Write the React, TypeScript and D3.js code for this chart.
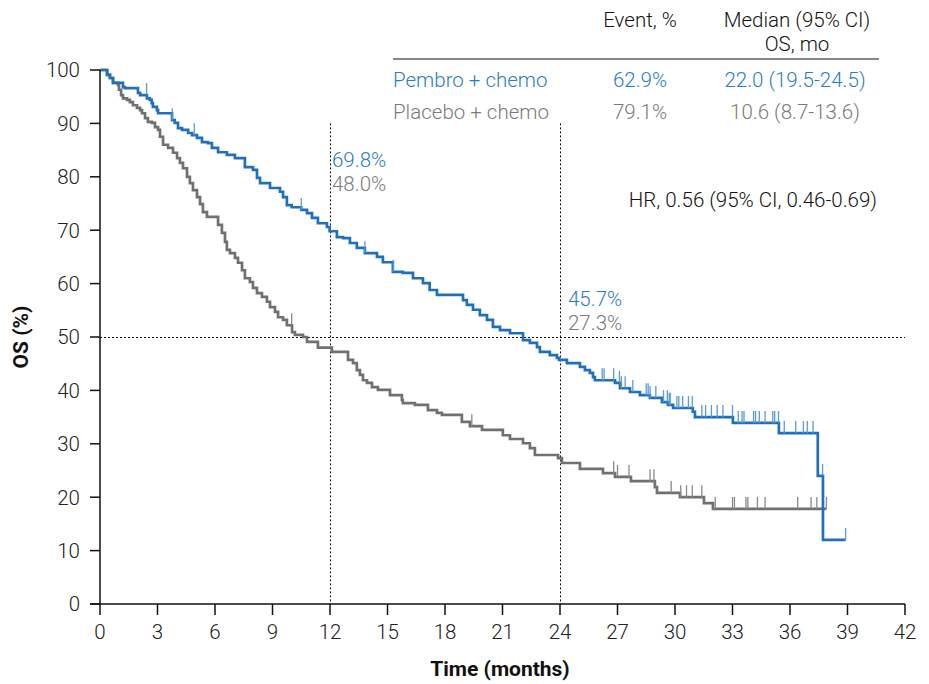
import React from 'react';
import * as d3 from 'd3';

// KM steps: [time (months), OS % after the drop]
const pembroSteps: [number, number][] = [
  [0, 100], [0.37, 99.1], [0.52, 98.5], [0.68, 97.6], [1.2, 96.8], [1.3, 96.6], [1.98, 95.7], [2.09, 95.3],
  [2.45, 94.7], [2.6, 94.4], [2.7, 93.8], [2.76, 93.1], [2.97, 92.5], [3.03, 91.9], [3.76, 90.6], [3.9, 90.1],
  [4.07, 89.1], [4.28, 88.8], [4.6, 88.2], [4.8, 87.8], [5.06, 87.3], [5.32, 86.5], [5.63, 86.3], [5.84, 85.4],
  [6.16, 84.6], [6.62, 84.1], [7.04, 83.5], [7.56, 81.8], [7.98, 81.3], [8.19, 79.8], [8.35, 78.8], [8.87, 77.9],
  [9.39, 77.2], [9.55, 76.2], [9.75, 74.7], [10.0, 74.3], [10.5, 73.8], [10.8, 73.2], [11.06, 72.3], [11.37, 71.3],
  [11.84, 70.6], [11.98, 69.8], [12.36, 68.7], [12.68, 68.5], [13.04, 67.6], [13.4, 66.7], [13.82, 65.7], [14.45, 65.0],
  [14.76, 64.0], [15.28, 62.2], [15.8, 62.0], [16.33, 61.0], [16.85, 60.1], [17.2, 58.8], [17.58, 57.9], [18.94, 56.9],
  [19.14, 56.0], [19.46, 55.1], [19.82, 54.1], [20.19, 53.2], [20.5, 51.9], [20.87, 51.3], [21.39, 50.7], [22.07, 49.4],
  [22.43, 48.9], [22.8, 48.1], [22.95, 47.2], [23.47, 46.6], [23.84, 46.1], [23.95, 45.7], [24.36, 45.1], [25.04, 44.4],
  [25.3, 43.8], [25.56, 43.3], [25.72, 42.5], [25.82, 41.9], [26.87, 41.4], [27.13, 40.4], [27.65, 39.7], [28.17, 39.1],
  [28.69, 38.6], [29.32, 37.8], [29.63, 37.3], [29.9, 36.7], [30.93, 36.0], [31.04, 35.0], [33.02, 33.9], [35.42, 32.0],
  [37.45, 24.0], [37.72, 12.0], [38.9, 12.0],
];

const placeboSteps: [number, number][] = [
  [0, 100], [0.37, 99.1], [0.52, 98.5], [0.68, 97.6], [0.94, 97.2], [0.99, 96.3], [1.1, 95.3], [1.2, 94.7],
  [1.41, 94.4], [1.56, 94.0], [1.72, 93.4], [1.93, 92.9], [2.09, 92.5], [2.19, 91.9], [2.35, 91.0], [2.5, 90.3],
  [2.71, 90.1], [2.87, 89.3], [3.03, 88.8], [3.13, 87.5], [3.29, 86.0], [3.55, 85.4], [3.81, 84.5], [4.02, 83.5],
  [4.17, 82.6], [4.33, 81.6], [4.54, 80.0], [4.69, 78.8], [4.85, 77.5], [5.06, 76.2], [5.22, 74.9], [5.37, 73.4],
  [5.58, 72.5], [6.16, 71.0], [6.36, 69.5], [6.52, 67.8], [6.62, 66.3], [6.78, 65.7], [7.04, 64.8], [7.2, 63.9],
  [7.41, 62.5], [7.56, 61.0], [7.82, 60.3], [7.98, 59.2], [8.19, 58.2], [8.45, 57.5], [8.71, 56.6], [8.87, 55.6],
  [9.13, 54.7], [9.29, 53.7], [9.55, 53.2], [9.75, 52.2], [10.02, 50.9], [10.17, 50.4], [10.59, 50.0], [10.8, 49.1],
  [11.37, 48.0], [12.1, 47.2], [12.94, 45.7], [13.2, 45.1], [13.4, 43.8], [13.56, 42.9], [13.72, 41.9], [13.93, 41.4],
  [14.19, 40.6], [14.5, 40.1], [15.13, 39.1], [15.75, 38.2], [15.8, 37.6], [16.43, 37.3], [17.11, 36.3], [17.58, 35.8],
  [17.84, 35.4], [18.88, 34.1], [19.3, 33.3], [19.93, 32.6], [21.02, 31.6], [21.39, 30.9], [22.07, 30.1], [22.43, 29.2],
  [22.69, 27.9], [23.9, 27.3], [24.1, 26.4], [25.04, 25.3], [26.24, 24.5], [26.87, 23.8], [27.7, 23.0], [28.95, 21.9],
  [29.06, 20.8], [30.26, 20.0], [31.51, 18.9], [31.98, 17.8], [37.9, 17.8],
];

const pembroCensor = [
  2.43, 3.77, 4.92, 10.5, 13.82, 15.3, 26.2, 26.3, 26.8, 27.1, 27.2, 27.4, 27.8, 28.5, 28.6, 28.7, 29.0, 29.4,
  29.6, 29.7, 29.75, 30.1, 30.2, 30.4, 30.7, 30.9, 31.4, 31.6, 31.9, 32.2, 32.5, 33.0, 33.3, 33.5, 33.6, 34.1,
  34.2, 34.4, 34.7, 35.1, 35.2, 35.4, 35.7, 36.3, 36.7, 36.9, 37.2, 37.7, 38.9,
];

const placeboCensor = [
  10.0, 19.4, 26.8, 27.0, 27.6, 28.7, 28.9, 29.8, 30.3, 30.6, 30.9, 31.4, 32.1, 33.0, 33.1, 33.7, 33.8,
  34.3, 34.7, 36.4, 37.1, 37.4, 37.9,
];

const xTicks = d3.range(0, 43, 3);
const yTicks = d3.range(0, 101, 10);
const landmarks = [12, 24];

const tableHead = ['Event, %', 'Median (95% CI)', 'OS, mo'];
const armNames = ['Pembro + chemo', 'Placebo + chemo'];
const eventPct = ['62.9%', '79.1%'];
const medians = ['22.0 (19.5-24.5)', '10.6 (8.7-13.6)'];
const at12 = ['69.8%', '48.0%'];
const at24 = ['45.7%', '27.3%'];
const hrText = 'HR, 0.56 (95% CI, 0.46-0.69)';

const BLUE = '#1f6fbd';
const GRAY = '#707070';
const BLUE_TXT = '#2a7cc6';
const GRAY_TXT = '#7a7a7a';
const FONT = 'Roboto, sans-serif';
const FS = 20.5;

const W = 929;
const H = 684;

export default function App() {
  const x = d3.scaleLinear().domain([0, 42]).range([100, 905]);
  const y = d3.scaleLinear().domain([0, 100]).range([604, 70]);

  const line = d3.line<[number, number]>()
    .x(d => x(d[0]))
    .y(d => y(d[1]))
    .curve(d3.curveStepAfter);

  // survival at time t from a step list
  const survAt = (steps: [number, number][], t: number) => {
    let s = steps[0][1];
    for (const p of steps) { if (p[0] <= t) s = p[1]; }
    return s;
  };

  const arms = [
    { steps: pembroSteps, censor: pembroCensor, color: BLUE, tick: '#5a9ad6' },
    { steps: placeboSteps, censor: placeboCensor, color: GRAY, tick: '#8a8a8a' },
  ];

  return (
    <svg width={W} height={H} style={{ position: 'absolute', left: 0, top: 0, background: '#fff' }}
      fontFamily={FONT}>
      {/* reference lines */}
      <line x1={x(0)} x2={x(42)} y1={Math.round(y(50)) + 0.5} y2={Math.round(y(50)) + 0.5} stroke="#111"
        strokeWidth={1} strokeDasharray="2,2" />
      {landmarks.map(t => (
        <line key={t} x1={Math.round(x(t)) + 0.5} x2={Math.round(x(t)) + 0.5} y1={y(90)} y2={y(0)} stroke="#111"
          strokeWidth={1} strokeDasharray="2,2" />
      ))}

      {/* curves */}
      {arms.slice().reverse().map((a, i) => (
        <g key={i}>
          <path d={line(a.steps) || ''} fill="none" stroke={a.color} strokeWidth={2.7} />
          {a.censor.map((t, j) => (
            <line key={j} x1={x(t)} x2={x(t)} y1={y(survAt(a.steps, t))} y2={y(survAt(a.steps, t)) - 12}
              stroke={a.tick} strokeWidth={1.3} />
          ))}
        </g>
      ))}

      {/* axes */}
      <line x1={x(0)} x2={x(0)} y1={y(0)} y2={y(100)} stroke="#111" strokeWidth={1.5} />
      <line x1={x(0) - 10} x2={x(42)} y1={y(0)} y2={y(0)} stroke="#111" strokeWidth={1.5} />
      {yTicks.map(v => (
        <g key={v}>
          <line x1={x(0) - 10} x2={x(0)} y1={y(v)} y2={y(v)} stroke="#111" strokeWidth={1.5} />
          <text x={x(0) - 20} y={y(v)} dy="0.36em" textAnchor="end" fontSize={FS} fontWeight={300} fill="#222">{v}</text>
        </g>
      ))}
      {xTicks.map(v => (
        <g key={v}>
          <line x1={x(v)} x2={x(v)} y1={y(0)} y2={y(0) + 11} stroke="#111" strokeWidth={1.5} />
          <text x={x(v)} y={632} dy="0.36em" textAnchor="middle" fontSize={FS} fontWeight={300} fill="#222">{v}</text>
        </g>
      ))}
      <text x={500} y={668} dy="0.36em" textAnchor="middle" fontSize={21} fontWeight={700} fill="#111">Time (months)</text>
      <text transform={`translate(20,${y(50)}) rotate(-90)`} dy="0.36em" textAnchor="middle" fontSize={21}
        fontWeight={700} fill="#111">OS (%)</text>

      {/* table */}
      <g fontSize={FS} fontWeight={300} fill="#111">
        <text x={640} y={20} dy="0.36em" textAnchor="middle">{tableHead[0]}</text>
        <text x={797} y={20} dy="0.36em" textAnchor="middle">{tableHead[1]}</text>
        <text x={797} y={44} dy="0.36em" textAnchor="middle">{tableHead[2]}</text>
      </g>
      <line x1={393} x2={879} y1={59} y2={59} stroke="#111" strokeWidth={1.2} />
      {armNames.map((n, i) => {
        const c = i === 0 ? BLUE_TXT : GRAY_TXT;
        const yy = 80 + i * 32;
        return (
          <g key={n} fill={c} fontSize={FS} fontWeight={300}>
            <text x={393} y={yy} dy="0.36em">{n}</text>
            <text x={640} y={yy} dy="0.36em" textAnchor="middle">{eventPct[i]}</text>
            <text x={795} y={yy} dy="0.36em" textAnchor="middle">{medians[i]}</text>
          </g>
        );
      })}

      {/* landmark labels */}
      {at12.map((s, i) => (
        <text key={s} x={x(12) + 2} y={160 + i * 24} dy="0.36em" fontSize={FS} fontWeight={300}
          fill={i === 0 ? BLUE_TXT : GRAY_TXT}>{s}</text>
      ))}
      {at24.map((s, i) => (
        <text key={s} x={x(24) + 8} y={299 + i * 24} dy="0.36em" fontSize={FS} fontWeight={300}
          fill={i === 0 ? BLUE_TXT : GRAY_TXT}>{s}</text>
      ))}
      <text x={877} y={200} dy="0.36em" textAnchor="end" fontSize={FS} fontWeight={300} fill="#111">{hrText}</text>
    </svg>
  );
}
